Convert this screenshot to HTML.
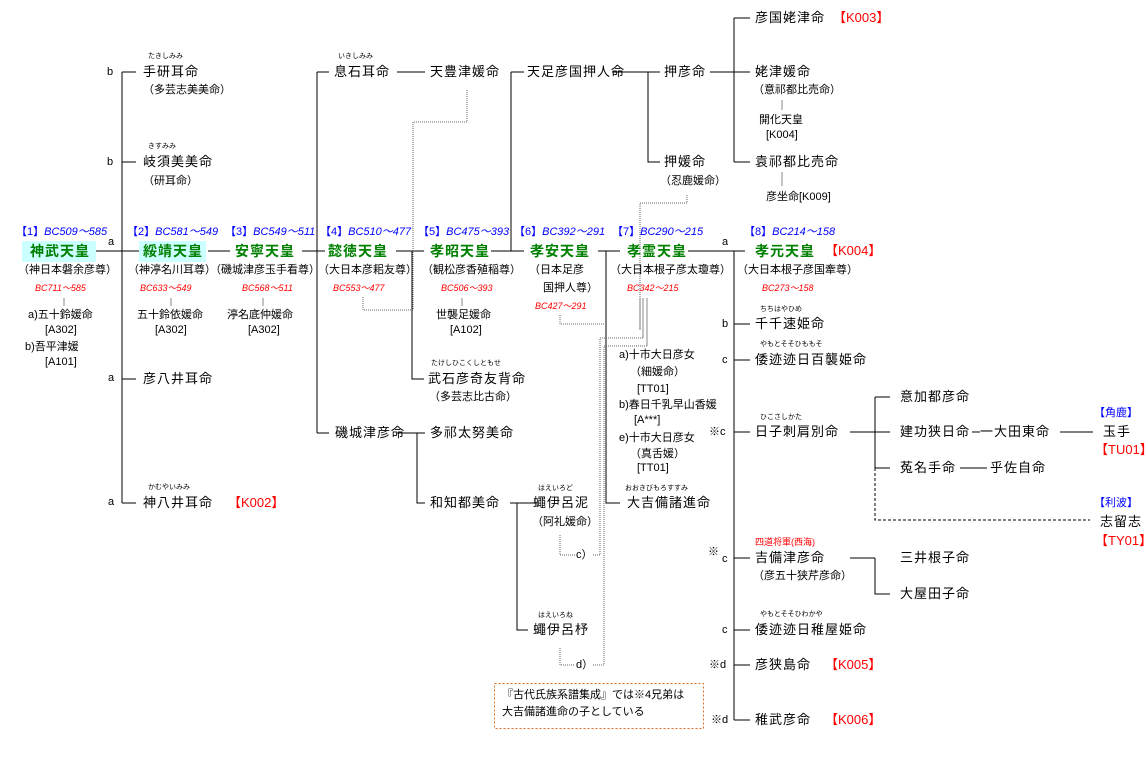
<!DOCTYPE html>
<html><head><meta charset="utf-8">
<style>
body{margin:0;background:#fff;}
#w{position:relative;width:1148px;height:765px;overflow:hidden;background:#fff;font-family:"Liberation Sans","Noto Sans CJK JP",sans-serif;color:#000;}
.t{position:absolute;white-space:nowrap;line-height:16px;font-size:13px;letter-spacing:1px;}
.s{font-size:11px;letter-spacing:0;}
.r{font-size:7px;letter-spacing:0;}
.e{font-size:14px;font-weight:bold;color:#008000;}
.b{font-size:11px;color:#0000ff;font-style:italic;letter-spacing:0;}
.bb{font-size:11px;color:#0000ff;letter-spacing:0;}
.d{font-size:9px;color:#ff0000;font-style:italic;letter-spacing:0;}
.k{font-size:13px;color:#ff0000;letter-spacing:0;}
.l{font-size:11px;letter-spacing:0;}
.hl{position:absolute;background:#ccffff;}
svg{position:absolute;left:0;top:0;}
</style></head><body><div id="w">
<div class="hl" style="left:22px;top:241px;width:74px;height:21px"></div>
<div class="hl" style="left:139px;top:241px;width:67px;height:21px"></div>
<svg width="1148" height="765">
<g stroke="#000" stroke-width="1" fill="none">
<path d="M122 72V503M122 72H136M122 162H136M122 379H136M122 503H136M96 251H139"/>
<path d="M208 251H230M302 251H325M317 72V433M317 72H329M317 433H329"/>
<path d="M397 72H425M396 251H424M412 251V379H424M491 251H524M511 72V251M511 72H524"/>
<path d="M612 72H660M648 72V162H660M598 251H620M606 251V503H620"/>
<path d="M710 72H750M734 18V162M734 18H750M734 162H750"/>
<path d="M688 251H745M734 251V720M734 324H750M734 360H750M734 432H750M734 558H750M734 630H750M734 665H750M734 720H750"/>
<path d="M850 432H875M875 397V468M875 397H890M875 432H890M875 468H890M972 432H980M1060 432H1093M960 468H987"/>
<path d="M850 558H875M875 558V594H890"/>
<path d="M397 433H425M417 433V503H425M510 503H538M517 503V630H528"/>
</g>
<g stroke="#888" stroke-width="1" fill="none">
<path d="M64 298V306M171 298V306M263 298V306M462 298V306M782 100V110M782 172V186"/>
<path d="M643 298V338M647 298V346M640 298V330"/>
</g>
<g stroke="#666" stroke-width="1" fill="none" stroke-dasharray="1,1">
<path d="M467 90V122H413V310H363V296"/>
<path d="M687 195V203H640V330"/>
<path d="M560 315V324H604"/>
<path d="M643 338H600V555H592M647 346H604V665H592"/>
<path d="M560 535V555H575M560 648V665H575"/>
</g>
<g stroke="#000" stroke-width="1" fill="none" stroke-dasharray="3,2">
<path d="M875 468V520H1090"/>
</g>
<rect x="494.5" y="683.5" width="209" height="45" fill="none" stroke="#e07020" stroke-dasharray="2,2"/>
</svg>

<div class="t r" style="left:148px;top:49px">たきしみみ</div>
<div class="t l" style="left:107px;top:64px">b</div>
<div class="t" style="left:143px;top:64px">手研耳命</div>
<div class="t s" style="left:143px;top:82px">（多芸志美美命）</div>
<div class="t r" style="left:148px;top:139px">きすみみ</div>
<div class="t l" style="left:107px;top:154px">b</div>
<div class="t" style="left:143px;top:154px">岐須美美命</div>
<div class="t s" style="left:143px;top:173px">（研耳命）</div>
<div class="t l" style="left:108px;top:234px">a</div>
<div class="t l" style="left:108px;top:370px">a</div>
<div class="t" style="left:143px;top:371px">彦八井耳命</div>
<div class="t r" style="left:148px;top:480px">かむやいみみ</div>
<div class="t l" style="left:108px;top:494px">a</div>
<div class="t" style="left:143px;top:495px">神八井耳命</div>
<div class="t k" style="left:228px;top:495px">【K002】</div>

<div class="t bb" style="left:16px;top:224px">【1】<i>BC509～585</i></div>
<div class="t e" style="left:30px;top:243px">神武天皇</div>
<div class="t s" style="left:18px;top:262px">（神日本磐余彦尊）</div>
<div class="t d" style="left:35px;top:280px">BC711～585</div>
<div class="t s" style="left:28px;top:307px">a)五十鈴媛命</div>
<div class="t s" style="left:45px;top:322px">[A302]</div>
<div class="t s" style="left:25px;top:339px">b)吾平津媛</div>
<div class="t s" style="left:45px;top:354px">[A101]</div>

<div class="t bb" style="left:127px;top:224px">【2】<i>BC581～549</i></div>
<div class="t e" style="left:143px;top:243px">綏靖天皇</div>
<div class="t s" style="left:128px;top:262px">（神渟名川耳尊）</div>
<div class="t d" style="left:140px;top:280px">BC633～549</div>
<div class="t s" style="left:137px;top:307px">五十鈴依媛命</div>
<div class="t s" style="left:155px;top:322px">[A302]</div>

<div class="t bb" style="left:225px;top:224px">【3】<i>BC549～511</i></div>
<div class="t e" style="left:235px;top:243px">安寧天皇</div>
<div class="t s" style="left:210px;top:262px">（磯城津彦玉手看尊）</div>
<div class="t d" style="left:242px;top:280px">BC568～511</div>
<div class="t s" style="left:227px;top:307px">渟名底仲媛命</div>
<div class="t s" style="left:248px;top:322px">[A302]</div>

<div class="t bb" style="left:320px;top:224px">【4】<i>BC510～477</i></div>
<div class="t e" style="left:328px;top:243px">懿徳天皇</div>
<div class="t s" style="left:318px;top:262px">（大日本彦耜友尊）</div>
<div class="t d" style="left:333px;top:280px">BC553～477</div>

<div class="t r" style="left:338px;top:49px">いきしみみ</div>
<div class="t" style="left:334px;top:64px">息石耳命</div>
<div class="t" style="left:430px;top:64px">天豊津媛命</div>
<div class="t" style="left:527px;top:64px">天足彦国押人命</div>
<div class="t" style="left:664px;top:64px">押彦命</div>
<div class="t" style="left:664px;top:154px">押媛命</div>
<div class="t s" style="left:660px;top:173px">（忍鹿媛命）</div>

<div class="t" style="left:755px;top:10px">彦国姥津命</div>
<div class="t k" style="left:833px;top:10px">【K003】</div>
<div class="t" style="left:755px;top:64px">姥津媛命</div>
<div class="t s" style="left:753px;top:82px">（意祁都比売命）</div>
<div class="t s" style="left:759px;top:112px">開化天皇</div>
<div class="t s" style="left:766px;top:127px">[K004]</div>
<div class="t" style="left:755px;top:154px">袁祁都比売命</div>
<div class="t s" style="left:766px;top:189px">彦坐命[K009]</div>

<div class="t bb" style="left:418px;top:224px">【5】<i>BC475～393</i></div>
<div class="t e" style="left:430px;top:243px">孝昭天皇</div>
<div class="t s" style="left:422px;top:262px">（観松彦香殖稲尊）</div>
<div class="t d" style="left:441px;top:280px">BC506～393</div>
<div class="t s" style="left:436px;top:307px">世襲足媛命</div>
<div class="t s" style="left:450px;top:322px">[A102]</div>
<div class="t r" style="left:431px;top:356px">たけしひこくしともせ</div>
<div class="t" style="left:428px;top:371px">武石彦奇友背命</div>
<div class="t s" style="left:429px;top:389px">（多芸志比古命）</div>

<div class="t bb" style="left:514px;top:224px">【6】<i>BC392～291</i></div>
<div class="t e" style="left:530px;top:243px">孝安天皇</div>
<div class="t s" style="left:529px;top:262px">（日本足彦</div>
<div class="t s" style="left:543px;top:280px">国押人尊）</div>
<div class="t d" style="left:535px;top:298px">BC427～291</div>

<div class="t bb" style="left:612px;top:224px">【7】<i>BC290～215</i></div>
<div class="t e" style="left:627px;top:243px">孝霊天皇</div>
<div class="t s" style="left:610px;top:262px">（大日本根子彦太瓊尊）</div>
<div class="t d" style="left:627px;top:280px">BC342～215</div>
<div class="t s" style="left:619px;top:347px">a)十市大日彦女</div>
<div class="t s" style="left:630px;top:364px">（細媛命）</div>
<div class="t s" style="left:637px;top:381px">[TT01]</div>
<div class="t s" style="left:619px;top:397px">b)春日千乳早山香媛</div>
<div class="t s" style="left:634px;top:412px">[A***]</div>
<div class="t s" style="left:619px;top:430px">e)十市大日彦女</div>
<div class="t s" style="left:630px;top:446px">（真舌媛）</div>
<div class="t s" style="left:637px;top:460px">[TT01]</div>
<div class="t r" style="left:625px;top:481px">おおきびもろすすみ</div>
<div class="t" style="left:627px;top:495px">大吉備諸進命</div>

<div class="t bb" style="left:744px;top:224px">【8】<i>BC214～158</i></div>
<div class="t l" style="left:722px;top:234px">a</div>
<div class="t e" style="left:755px;top:243px">孝元天皇</div>
<div class="t k" style="left:825px;top:243px">【K004】</div>
<div class="t s" style="left:737px;top:262px">（大日本根子彦国牽尊）</div>
<div class="t d" style="left:762px;top:280px">BC273～158</div>
<div class="t r" style="left:760px;top:302px">ちちはやひめ</div>
<div class="t l" style="left:722px;top:316px">b</div>
<div class="t" style="left:755px;top:316px">千千速姫命</div>
<div class="t r" style="left:760px;top:337px">やもとそそひももそ</div>
<div class="t l" style="left:722px;top:352px">c</div>
<div class="t" style="left:755px;top:352px">倭迹迹日百襲姫命</div>
<div class="t r" style="left:760px;top:410px">ひこさしかた</div>
<div class="t l" style="left:709px;top:424px">※c</div>
<div class="t" style="left:755px;top:424px">日子刺肩別命</div>
<div class="t" style="left:900px;top:389px">意加都彦命</div>
<div class="t" style="left:900px;top:424px">建功狭日命</div>
<div class="t" style="left:980px;top:424px">一大田東命</div>
<div class="t bb" style="left:1094px;top:405px">【角鹿】</div>
<div class="t" style="left:1103px;top:424px">玉手</div>
<div class="t k" style="left:1095px;top:442px">【TU01】</div>
<div class="t" style="left:900px;top:460px">菟名手命</div>
<div class="t" style="left:990px;top:460px">乎佐自命</div>
<div class="t bb" style="left:1094px;top:495px">【利波】</div>
<div class="t" style="left:1100px;top:514px">志留志</div>
<div class="t k" style="left:1095px;top:533px">【TY01】</div>

<div class="t" style="left:335px;top:425px">磯城津彦命</div>
<div class="t" style="left:430px;top:425px">多祁太努美命</div>
<div class="t" style="left:430px;top:495px">和知都美命</div>
<div class="t r" style="left:538px;top:481px">はえいろど</div>
<div class="t" style="left:533px;top:495px">蠅伊呂泥</div>
<div class="t s" style="left:532px;top:514px">（阿礼媛命）</div>
<div class="t s" style="left:576px;top:547px">c）</div>
<div class="t r" style="left:538px;top:608px">はえいろね</div>
<div class="t" style="left:533px;top:622px">蠅伊呂杼</div>
<div class="t s" style="left:576px;top:657px">d）</div>

<div class="t l" style="left:708px;top:544px">※</div>
<div class="t l" style="left:722px;top:551px">c</div>
<div class="t" style="left:755px;top:534px;font-size:9px;color:#f00;letter-spacing:0">四道将軍(西海)</div>
<div class="t" style="left:755px;top:550px">吉備津彦命</div>
<div class="t s" style="left:753px;top:568px">（彦五十狭芹彦命）</div>
<div class="t" style="left:900px;top:550px">三井根子命</div>
<div class="t" style="left:900px;top:586px">大屋田子命</div>
<div class="t r" style="left:760px;top:607px">やもとそそひわかや</div>
<div class="t l" style="left:722px;top:622px">c</div>
<div class="t" style="left:755px;top:622px">倭迹迹日稚屋姫命</div>
<div class="t l" style="left:709px;top:657px">※d</div>
<div class="t" style="left:755px;top:657px">彦狭島命</div>
<div class="t k" style="left:825px;top:657px">【K005】</div>
<div class="t l" style="left:711px;top:712px">※d</div>
<div class="t" style="left:755px;top:712px">稚武彦命</div>
<div class="t k" style="left:825px;top:712px">【K006】</div>

<div class="t s" style="left:502px;top:687px">『古代氏族系譜集成』では※4兄弟は</div>
<div class="t s" style="left:502px;top:704px">大吉備諸進命の子としている</div>
</div></body></html>
